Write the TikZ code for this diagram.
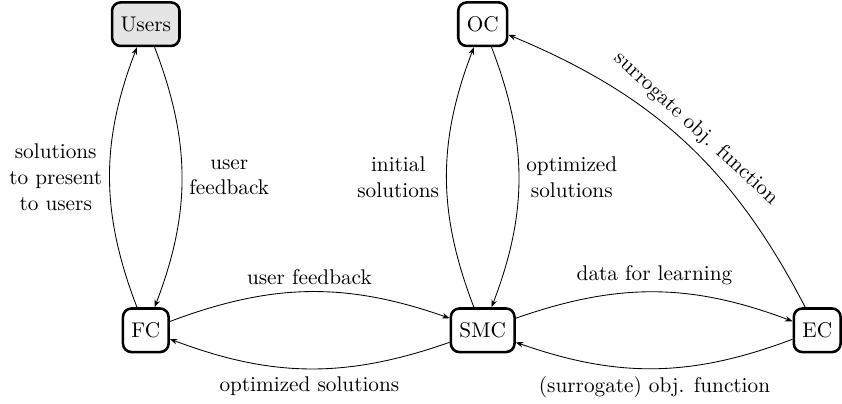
\documentclass[tikz,border=0pt]{standalone}
\usepackage{tikz}
\usetikzlibrary{arrows.meta, positioning}

\begin{document}
\begin{tikzpicture}[comp/.style={draw, very thick, rounded corners=4pt, minimum height=0.72cm, inner sep=4pt},
    flow/.style={-{Stealth[length=3.5pt]}}]
      \useasboundingbox (-2.41,-1.21) rectangle (11.51,5.46);

      \node[comp, fill=gray!20] (users) at (0,5.06) {Users};
      \node[comp] (oc) at (5.57,5.06) {OC};
      \node[comp] (fc) at (0,0) {FC};
      \node[comp] (smc) at (5.57,0) {SMC};
      \node[comp] (ec) at (11.1,0) {EC};

      \draw[flow] (fc) to[bend left=21] node[left, align=center] {solutions\\to present\\to users} (users);
      \draw[flow] (users) to[bend left=21] node[right, align=center] {user\\feedback} (fc);
      \draw[flow] (smc) to[bend left=21] node[left, align=center] {initial\\solutions} (oc);
      \draw[flow] (oc) to[bend left=21] node[right, align=center] {optimized\\solutions} (smc);
      \draw[flow] (fc) to[bend left=20] node[above] {user feedback} (smc);
      \draw[flow] (smc) to[bend left=20] node[below] {optimized solutions} (fc);
      \draw[flow] (smc) to[bend left=20] node[above] {data for learning} (ec);
      \draw[flow] (ec) to[bend left=20] node[below] {(surrogate) obj. function} (smc);
      \draw[flow] (ec) to[bend right=20] node[above, sloped] {surrogate obj. function} (oc);
    \end{tikzpicture}
\end{document}
